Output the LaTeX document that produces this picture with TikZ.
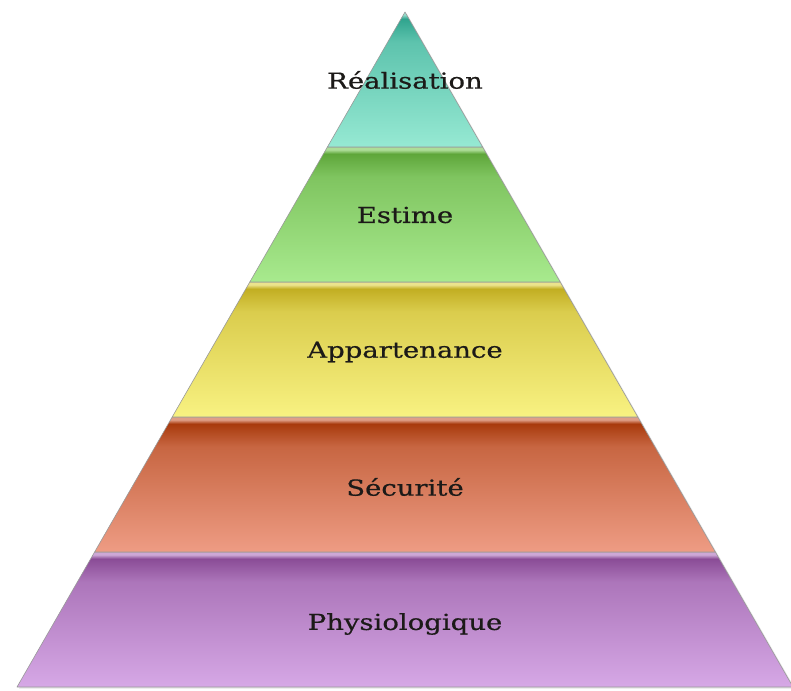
\documentclass[tikz,border=0pt]{standalone}
\usepackage{fontspec}
\setmainfont{DejaVu Serif}[FakeStretch=1.25, FakeBold=0.6]
\usepackage{xcolor}
\usepackage{tikz}
\usetikzlibrary{positioning}

% Colores de las capas
\definecolor{realtop}{HTML}{2FA48E}
\definecolor{realbot}{HTML}{96E9D3}
\definecolor{esttop}{HTML}{5EA63A}
\definecolor{estbot}{HTML}{A8EA8E}
\definecolor{apptop}{HTML}{C2AE22}
\definecolor{appbot}{HTML}{F8F282}
\definecolor{sectop}{HTML}{A83A0C}
\definecolor{secbot}{HTML}{EE9C84}
\definecolor{phytop}{HTML}{8A4C96}
\definecolor{phybot}{HTML}{D6A8E6}
\definecolor{textink}{HTML}{1C1A18}

% Sombreado vertical con un filo claro arriba
\newcommand{\capashade}[3]{%
  \pgfdeclareverticalshading{#1}{100bp}{color(0bp)=(#3); color(25bp)=(#3);
    color(64bp)=(#2!55!#3); color(72.5bp)=(#2); color(74bp)=(#2!40!#3!70!white);
    color(75bp)=(#2!40!#3!70!white); color(100bp)=(#2!40!#3!70!white)}}
\capashade{realshade}{realtop}{realbot}
\capashade{estshade}{esttop}{estbot}
\capashade{appshade}{apptop}{appbot}
\capashade{secshade}{sectop}{secbot}
\capashade{physhade}{phytop}{phybot}

\tikzset{
  capa/.style={draw=black!40, line width=0.6pt, line join=round},
  etiqueta/.style={font=\fontsize{22}{26}\selectfont, text=textink, inner sep=2pt}
}

\begin{document}
\begin{tikzpicture}[x=1pt, y=-1pt]
  \useasboundingbox (0,0) rectangle (791,690);

  % Sombra de la piramide
  \fill[black!10] (407,14) -- (795,688.5) -- (19,688.5) -- cycle;

  % Capas (de abajo hacia arriba)
  \shade[capa, shading=physhade] (94.6,552) -- (715.4,552) -- (793,687) -- (17,687) -- cycle;
  \shade[capa, shading=secshade] (172.2,417) -- (637.8,417) -- (715.4,552) -- (94.6,552) -- cycle;
  \shade[capa, shading=appshade] (249.8,282) -- (560.2,282) -- (637.8,417) -- (172.2,417) -- cycle;
  \shade[capa, shading=estshade] (327.4,147) -- (482.6,147) -- (560.2,282) -- (249.8,282) -- cycle;
  \shade[capa, shading=realshade] (405,12) -- (482.6,147) -- (327.4,147) -- cycle;

  % Etiquetas
  \node[etiqueta] (phy) at (405,624) {Physiologique};
  \node[etiqueta, above=137pt of phy.center, anchor=center] (sec) {Sécurité};
  \node[etiqueta, above=135pt of sec.center, anchor=center] (app) {Appartenance};
  \node[etiqueta, above=137pt of app.center, anchor=center] (est) {Estime};
  \node[etiqueta, above=135pt of est.center, anchor=center] (real) {Réalisation};
\end{tikzpicture}
\end{document}
